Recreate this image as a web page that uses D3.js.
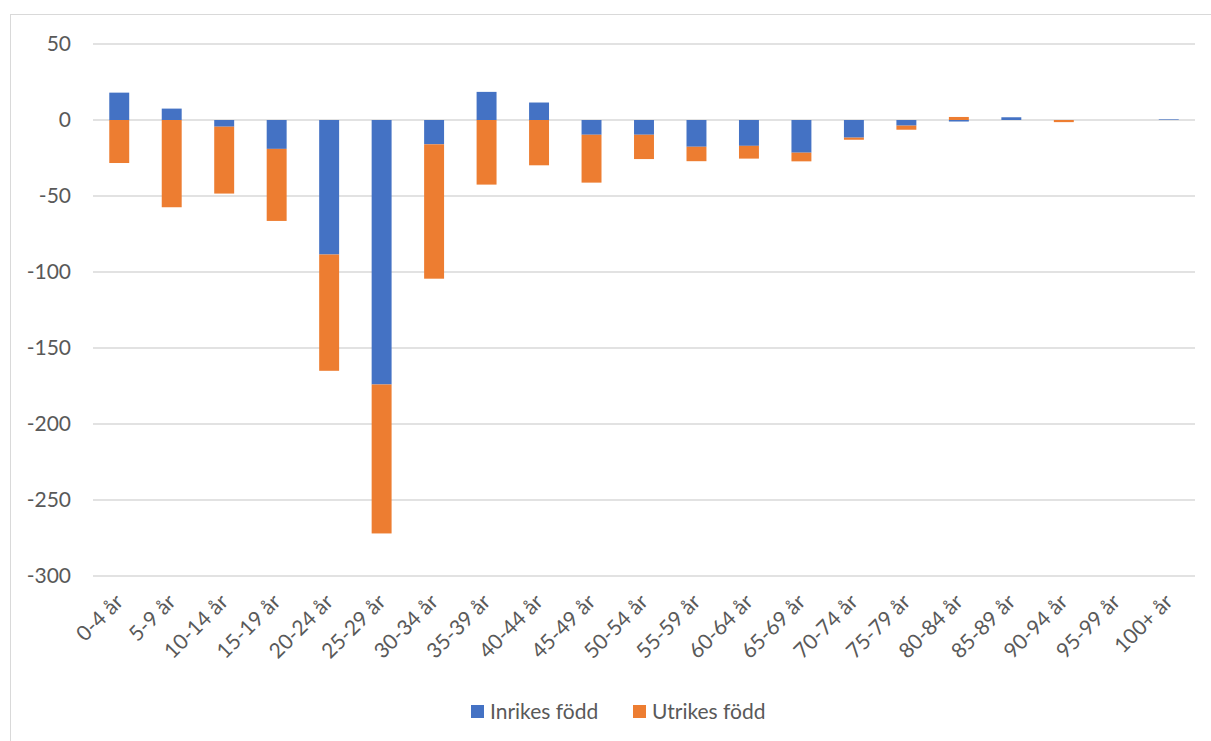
<!DOCTYPE html>
<html><head><meta charset="utf-8">
<script src="https://cdn.jsdelivr.net/npm/d3@7"></script>
<style>body{margin:0;background:#fff;font-family:Lato,"Open Sans",sans-serif;}</style>
</head><body><svg id="c" width="1211" height="741"></svg>
<script>
const categories = ["0-4 år","5-9 år","10-14 år","15-19 år","20-24 år","25-29 år","30-34 år","35-39 år","40-44 år","45-49 år","50-54 år","55-59 år","60-64 år","65-69 år","70-74 år","75-79 år","80-84 år","85-89 år","90-94 år","95-99 år","100+ år"];
const inrikes = [18, 7.5, -4.4, -19, -88.5, -174, -16, 18.5, 11.5, -9.7, -9.7, -17.6, -17, -21.5, -11.6, -3.7, -1, 1.8, 0, 0, 0.4];
const utrikes = [-28.3, -57.4, -44, -47.4, -76.5, -98, -88.4, -42.5, -29.8, -31.5, -16, -9.5, -8.4, -5.7, -1.4, -2.7, 2, 0, -1.4, 0, 0];
const seriesNames = ["Inrikes född","Utrikes född"];
const colors = ["#4472C4","#ED7D31"];
const yTicks = [50,0,-50,-100,-150,-200,-250,-300];

const svg = d3.select("#c");
const W = 1211, H = 741;
svg.append("rect").attr("x",10.5).attr("y",14.5).attr("width",W).attr("height",H).attr("fill","none").attr("stroke","#d9d9d9").attr("stroke-width",1);

const x0 = 93, x1 = 1195;
const x = d3.scaleBand().domain(categories).range([x0, x1]).paddingInner(0.62).paddingOuter(0.31);
const y = d3.scaleLinear().domain([-300, 50]).range([576, 44]);

svg.append("g").selectAll("line").data(yTicks).join("line")
  .attr("x1", x0).attr("x2", x1).attr("y1", d=>y(d)).attr("y2", d=>y(d))
  .attr("stroke","#d9d9d9").attr("stroke-width",1.3);

svg.append("g").selectAll("text").data(yTicks).join("text")
  .attr("x", 71).attr("y", d=>y(d)).attr("dy","0.35em").attr("text-anchor","end")
  .attr("fill","#595959").attr("font-size","21px").text(d=>d);

const table = categories.map((c,i)=>({cat:c, "Inrikes född":inrikes[i], "Utrikes född":utrikes[i]}));
const stack = d3.stack().keys(seriesNames).offset(d3.stackOffsetDiverging);
const layers = stack(table);

svg.append("g").selectAll("g").data(layers).join("g")
  .attr("fill",(d,i)=>colors[i])
  .selectAll("rect").data(d=>d).join("rect")
  .attr("x", d=>x(d.data.cat)).attr("width", x.bandwidth())
  .attr("y", d=>y(Math.max(d[0],d[1])))
  .attr("height", d=>Math.abs(y(d[0])-y(d[1])));

svg.append("g").selectAll("text").data(categories).join("text")
  .attr("transform", d=>`translate(${x(d)+x.bandwidth()/2},${598}) rotate(-45)`)
  .attr("text-anchor","end").attr("dy","0.35em")
  .attr("fill","#595959").attr("font-size","21px").text(d=>d);

const leg = svg.append("g");
const legX = [471, 633];
seriesNames.forEach((n,i)=>{
  leg.append("rect").attr("x",legX[i]).attr("y",705).attr("width",13).attr("height",13).attr("fill",colors[i]);
  leg.append("text").attr("x",legX[i]+19).attr("y",712).attr("dy","0.35em").attr("fill","#595959").attr("font-size","21px").text(n);
});
</script></body></html>
